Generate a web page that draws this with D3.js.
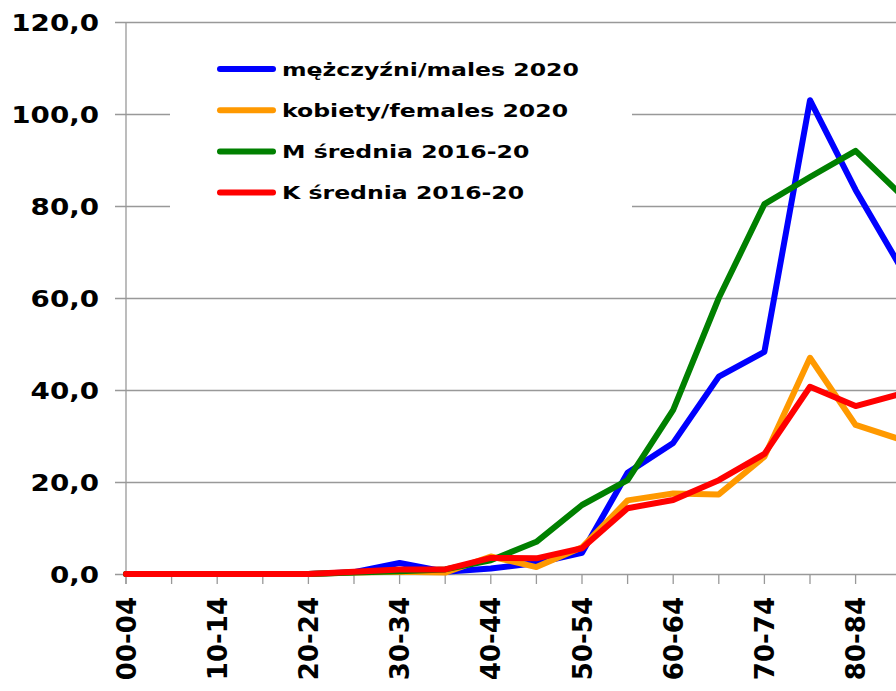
<!DOCTYPE html>
<html><head><meta charset="utf-8">
<script src="https://cdn.jsdelivr.net/npm/d3@7"></script>
<style>body{margin:0;background:#fff;}svg{display:block;}</style>
</head><body>
<svg id="c" width="896" height="691"></svg>
<script>
const categories = ["00-04","05-09","10-14","15-19","20-24","25-29","30-34","35-39","40-44","45-49","50-54","55-59","60-64","65-69","70-74","75-79","80-84","85-89"];
const males2020   = [0,0,0,0,0,0.4,2.4,0.5,1.2,2.4,4.6,22.0,28.5,42.9,48.3,103.0,83.5,66.5];
const females2020 = [0,0,0,0,0,0.3,0.5,0.3,3.8,1.5,5.8,16.0,17.5,17.3,25.5,47.0,32.4,29.2];
const mAvg        = [0,0,0,0,0,0.3,0.6,1.0,3.0,7.0,15.0,20.4,35.7,60.0,80.4,86.3,92.0,82.4];
const kAvg        = [0,0,0,0,0,0.5,1.0,1.0,3.5,3.4,5.6,14.3,16.1,20.4,26.1,40.7,36.5,39.2];
const yTicks = [0,20,40,60,80,100,120];
const labelCats = ["00-04","10-14","20-24","30-34","40-44","50-54","60-64","70-74","80-84"];
const seriesNames = ["mężczyźni/males 2020","kobiety/females 2020","M średnia 2016-20","K średnia 2016-20"];
const seriesColors = ["#0000ff","#ff9900","#008000","#ff0000"];
const seriesData = [males2020, females2020, mAvg, kAvg];

const svg = d3.select("#c");
const x0 = 126, step = 45.6;
const x = d3.scalePoint().domain(categories).range([x0, x0 + step*(categories.length-1)]);
const y = d3.scaleLinear().domain([0,120]).range([574,22]);
const font = "'DejaVu Sans', Verdana, sans-serif";
const grid = "#999";

// gridlines
svg.append("g").selectAll("line").data(yTicks.filter(d=>d>0)).join("line")
  .attr("x1",115).attr("x2",896).attr("y1",d=>y(d)+0.5).attr("y2",d=>y(d)+0.5)
  .attr("stroke",grid).attr("stroke-width",1.3);
// x axis line + ticks
svg.append("line").attr("x1",115).attr("x2",896).attr("y1",y(0)+0.5).attr("y2",y(0)+0.5).attr("stroke",grid).attr("stroke-width",1.3);
svg.append("g").selectAll("line").data(categories).join("line")
  .attr("x1",d=>x(d)).attr("x2",d=>x(d)).attr("y1",y(0)).attr("y2",y(0)+10)
  .attr("stroke",grid).attr("stroke-width",1.3);
// y axis line
svg.append("line").attr("x1",x0).attr("x2",x0).attr("y1",y(120)).attr("y2",y(0)+10).attr("stroke",grid).attr("stroke-width",1.3);

// y labels (horizontally stretched like the reference)
svg.append("g").selectAll("text").data(yTicks).join("text")
  .attr("transform",d=>`translate(99,${y(d)+8.5}) scale(1.18,1)`)
  .attr("text-anchor","end")
  .attr("font-family",font).attr("font-weight","bold").attr("font-size",23.5)
  .attr("fill","#000").text(d=>d3.format(".1f")(d).replace(".",","));

// x labels
svg.append("g").selectAll("text").data(labelCats).join("text")
  .attr("transform",d=>`translate(${x(d)+9.5},597) rotate(-90)`)
  .attr("text-anchor","end")
  .attr("font-family",font).attr("font-weight","bold").attr("font-size",26)
  .attr("fill","#000").text(d=>d);

// lines
const line = d3.line().x((d,i)=>x(categories[i])).y(d=>y(d));
seriesData.forEach((s,i)=>{
  svg.append("path").attr("d",line(s)).attr("fill","none")
    .attr("stroke",seriesColors[i]).attr("stroke-width",6)
    .attr("stroke-linejoin","round").attr("stroke-linecap","round");
});

// legend
svg.append("rect").attr("x",170).attr("y",40).attr("width",462).attr("height",176).attr("fill","#fff");
const lg = svg.append("g").selectAll("g").data(seriesNames).join("g")
  .attr("transform",(d,i)=>`translate(0,${69 + i*41.2})`);
lg.append("line").attr("x1",220).attr("x2",273).attr("y1",0).attr("y2",0)
  .attr("stroke",(d,i)=>seriesColors[i]).attr("stroke-width",6).attr("stroke-linecap","round");
lg.append("text").attr("transform","translate(282,6.7) scale(1.31,1)")
  .attr("font-family",font).attr("font-weight","bold")
  .attr("font-size",18).attr("fill","#000").text(d=>d);
</script>
</body></html>
